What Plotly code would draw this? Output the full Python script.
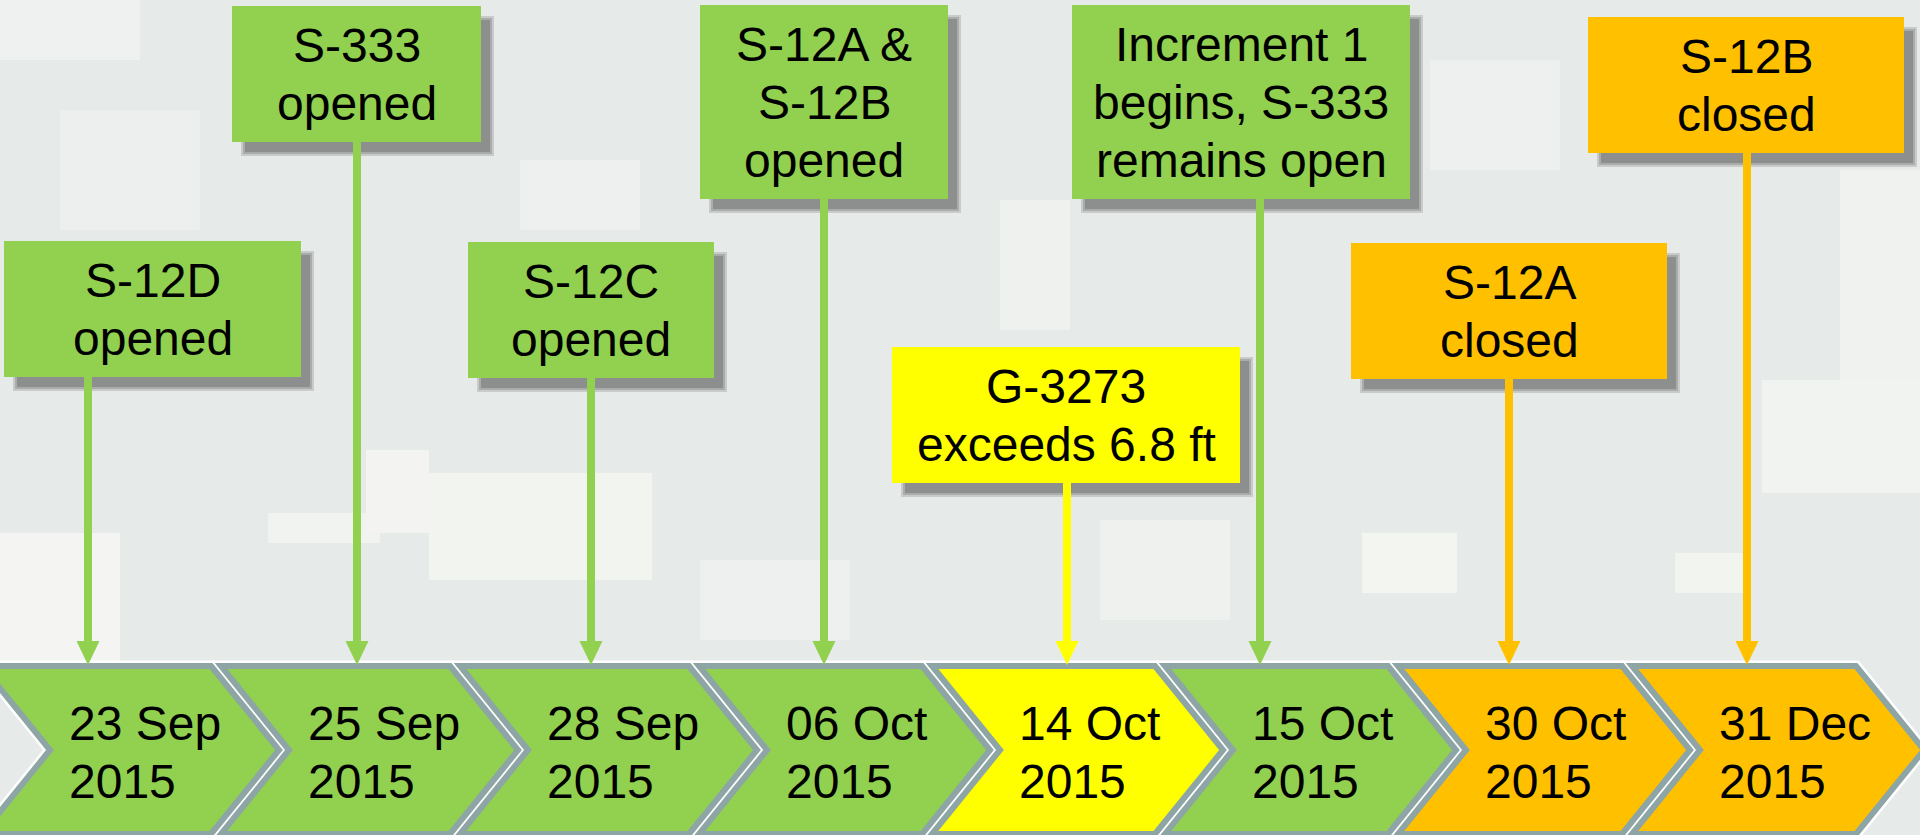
import plotly.graph_objects as go

# ---------------- data ----------------
date_day_month = ["23 Sep", "25 Sep", "28 Sep", "06 Oct", "14 Oct", "15 Oct", "30 Oct", "31 Dec"]
date_year = ["2015", "2015", "2015", "2015", "2015", "2015", "2015", "2015"]
event_text = [
    "S-12D<br>opened",
    "S-333<br>opened",
    "S-12C<br>opened",
    "S-12A &<br>S-12B<br>opened",
    "G-3273<br>exceeds 6.8 ft",
    "Increment 1<br>begins, S-333<br>remains open",
    "S-12A<br>closed",
    "S-12B<br>closed",
]
event_status = ["opened", "opened", "opened", "opened", "exceeded", "opened", "closed", "closed"]

# ---------------- layout / style ----------------
W, H = 1920, 835
BG = "#E6EAE9"
status_color = {"opened": "#92D050", "exceeded": "#FFFF00", "closed": "#FFC000"}
BORDER = "#8EA5A6"
FONT = "Liberation Sans, Arial, sans-serif"
FS = 48
LINE = 58

chevron_notch_x = [50, 289, 528, 767, 1000, 1233, 1466, 1700]
chev_top, chev_mid, chev_bot = 666, 750, 834
slant = 68
gap = 10

box_x0 = [4, 232, 468, 700, 892, 1072, 1351, 1588]
box_x1 = [301, 481, 714, 948, 1240, 1410, 1667, 1904]
box_top = [241, 6, 242, 5, 347, 5, 243, 17]
stem_x = [88, 357, 591, 824, 1067, 1260, 1509, 1747]
arrow_tip_y = 665
arrow_len = 24
arrow_half = 11.5

# light camouflage patches of the backdrop (decoration)
patches = [
    (0, 0, 140, 60, "#EEF1EF"), (60, 110, 200, 230, "#ECEFED"), (0, 533, 120, 662, "#F4F5F2"),
    (268, 513, 380, 543, "#F1F3F0"), (366, 450, 429, 533, "#F3F4F1"), (429, 473, 652, 580, "#F2F4F0"),
    (520, 160, 640, 230, "#EDF0EE"), (1000, 200, 1070, 330, "#EEF1EE"), (1430, 60, 1560, 170, "#EDF0EE"),
    (1362, 533, 1457, 593, "#F3F5F1"), (1675, 553, 1749, 593, "#F2F4F0"), (1762, 380, 1920, 493, "#F1F3F0"),
    (1840, 170, 1920, 380, "#EFF2EF"), (700, 560, 850, 640, "#EDF0EE"), (1100, 520, 1230, 620, "#EEF1EE"),
]

fig = go.Figure()
shapes = []
annotations = []

for (x0, y0, x1, y1, c) in patches:
    shapes.append(dict(type="rect", xref="x", yref="y", x0=x0, y0=y0, x1=x1, y1=y1,
                       fillcolor=c, line=dict(width=0), layer="below"))

n = len(date_day_month)


def chevron_path(i):
    xn = chevron_notch_x[i]
    nxt = chevron_notch_x[i + 1] if i + 1 < n else chevron_notch_x[i] + (chevron_notch_x[i] - chevron_notch_x[i - 1])
    xt = nxt - gap
    pts = [(xn - slant, chev_top), (xt - slant, chev_top), (xt, chev_mid), (xt - slant, chev_bot),
           (xn - slant, chev_bot), (xn, chev_mid)]
    return "M " + " L ".join(f"{x},{y}" for x, y in pts) + " Z"


# white under-outline for all chevrons
for i in range(n):
    shapes.append(dict(type="path", xref="x", yref="y", path=chevron_path(i),
                       line=dict(color="#FFFFFF", width=11), fillcolor="rgba(0,0,0,0)"))
# coloured chevrons with grey border
for i in range(n):
    shapes.append(dict(type="path", xref="x", yref="y", path=chevron_path(i),
                       line=dict(color=BORDER, width=6), fillcolor=status_color[event_status[i]]))
    tx = chevron_notch_x[i] + 17
    annotations.append(dict(x=tx, y=chev_mid + 2 - LINE / 2, xref="x", yref="y", text=date_day_month[i],
                            showarrow=False, xanchor="left", yanchor="middle",
                            font=dict(family=FONT, size=FS, color="#000000")))
    annotations.append(dict(x=tx, y=chev_mid + 2 + LINE / 2, xref="x", yref="y", text=date_year[i],
                            showarrow=False, xanchor="left", yanchor="middle",
                            font=dict(family=FONT, size=FS, color="#000000")))

# event boxes, shadows, stems and arrows
for i in range(n):
    lines = event_text[i].split("<br>")
    nl = len(lines)
    x0, x1, y0 = box_x0[i], box_x1[i], box_top[i]
    y1 = y0 + 20 + LINE * nl
    col = status_color[event_status[i]]
    # soft drop shadow
    for grow, alpha in [(2, 0.13), (0, 0.15), (-2, 0.17)]:
        shapes.append(dict(type="rect", xref="x", yref="y",
                           x0=x0 + 11 - grow, x1=x1 + 11 + grow, y0=y0 + 12 - grow, y1=y1 + 12 + grow,
                           fillcolor=f"rgba(0,0,0,{alpha})", line=dict(width=0)))
    # stem
    shapes.append(dict(type="line", xref="x", yref="y", x0=stem_x[i], x1=stem_x[i],
                       y0=y1, y1=arrow_tip_y - arrow_len + 2, line=dict(color=col, width=8)))
    sx = stem_x[i]
    shapes.append(dict(type="path", xref="x", yref="y",
                       path=f"M {sx - arrow_half},{arrow_tip_y - arrow_len} L {sx + arrow_half},{arrow_tip_y - arrow_len} L {sx},{arrow_tip_y} Z",
                       fillcolor=col, line=dict(width=0)))
    # box
    shapes.append(dict(type="rect", xref="x", yref="y", x0=x0, x1=x1, y0=y0, y1=y1,
                       fillcolor=col, line=dict(width=0)))
    cy = (y0 + y1) / 2
    for k, t in enumerate(lines):
        annotations.append(dict(x=(x0 + x1) / 2, y=cy + (k - (nl - 1) / 2) * LINE, xref="x", yref="y",
                                text=t, showarrow=False, xanchor="center", yanchor="middle",
                                font=dict(family=FONT, size=FS, color="#000000")))

fig.update_layout(
    width=W, height=H,
    margin=dict(l=0, r=0, t=0, b=0),
    paper_bgcolor=BG, plot_bgcolor=BG,
    xaxis=dict(range=[0, W], visible=False, fixedrange=True),
    yaxis=dict(range=[H, 0], visible=False, fixedrange=True),
    shapes=shapes, annotations=annotations, showlegend=False,
)

fig.write_html("out.html", config={"displayModeBar": False},
               post_script="document.body.style.margin='0';document.body.style.overflow='hidden';")
